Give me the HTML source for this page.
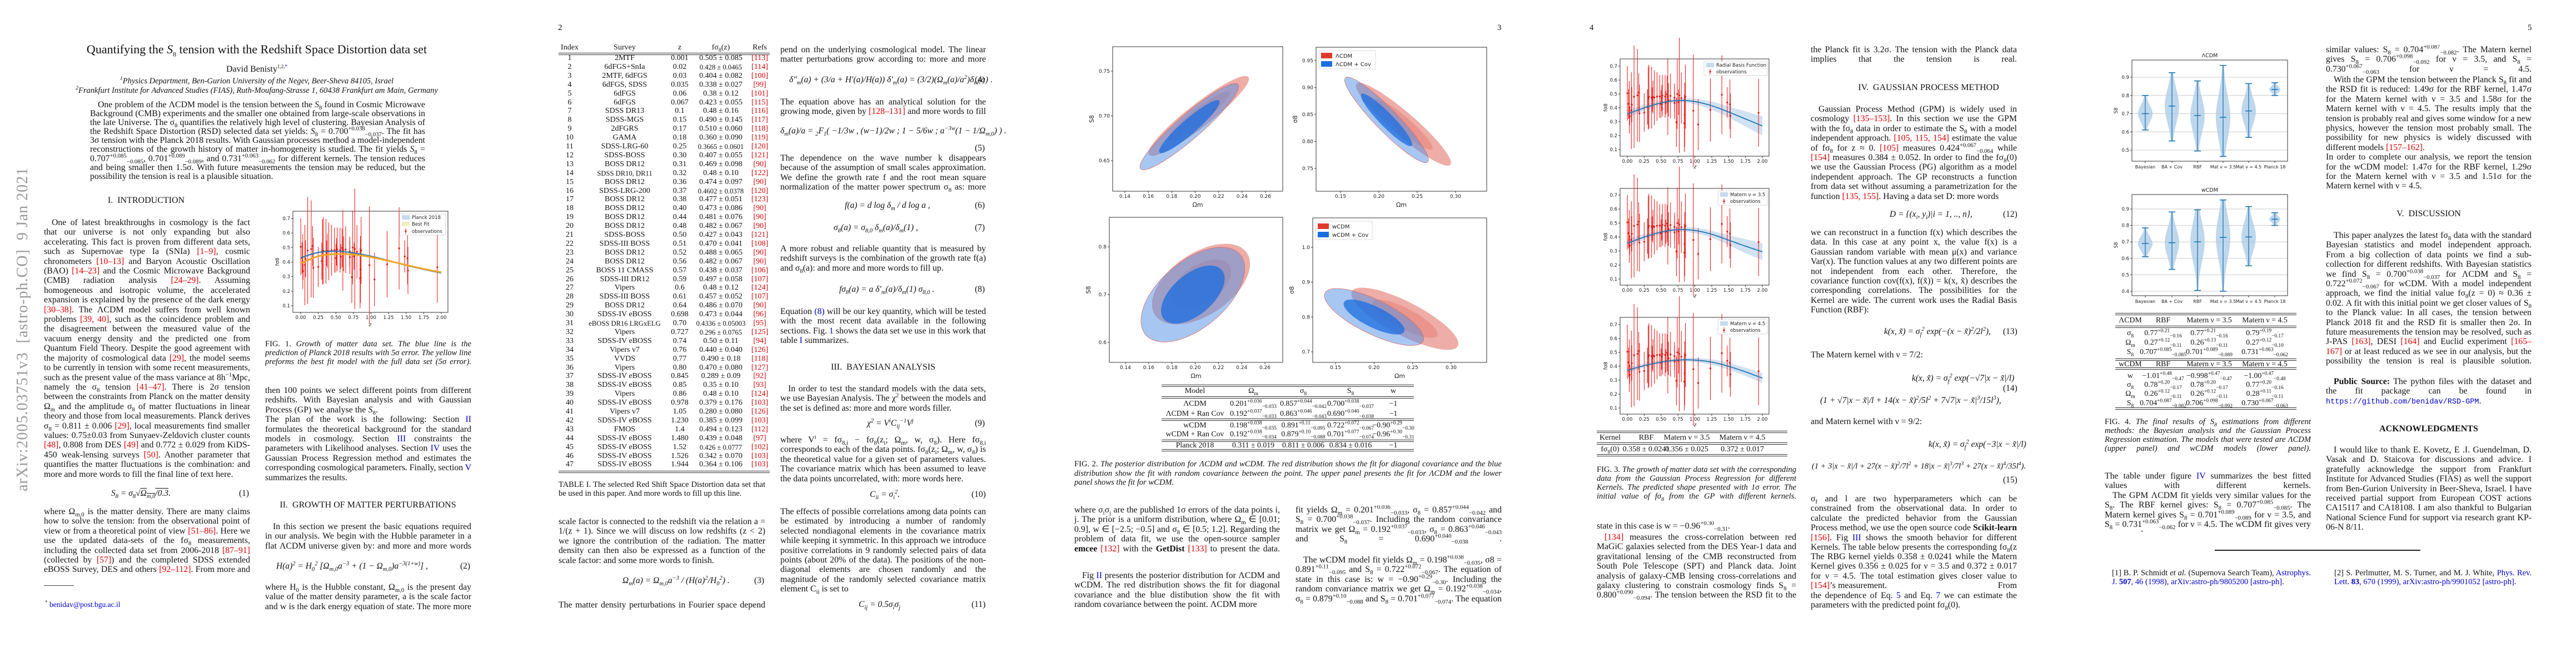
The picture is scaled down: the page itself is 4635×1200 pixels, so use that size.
<!DOCTYPE html>
<html><head><meta charset="utf-8">
<style>
html,body{margin:0;padding:0;background:#fff;}
body{width:4635px;height:1200px;position:relative;overflow:hidden;font-family:"Liberation Serif",serif;color:#111;}
sup,sub{line-height:0;font-size:68%;}
.a{position:absolute;}
.t{position:absolute;font-size:15.8px;line-height:17.4px;text-align:justify;overflow:hidden;}
.c{position:absolute;font-size:14.6px;line-height:16px;text-align:justify;overflow:hidden;font-style:italic;}
.h{position:absolute;font-size:16px;font-weight:bold;white-space:nowrap;transform:translateX(-50%);}
.eq{position:absolute;font-size:15.5px;white-space:nowrap;font-style:italic;}
.en{position:absolute;font-size:15.5px;}
.r{color:#d00;} .b{color:#00c;}
.pn{position:absolute;font-size:15px;top:42px;}
.rule{position:absolute;height:0;border-top:1px solid #333;}
.cell{position:absolute;font-size:14px;white-space:nowrap;transform:translateX(-50%);line-height:14px;}
svg text{font-family:"DejaVu Sans","Liberation Sans",sans-serif;}
</style></head><body>

<!-- arXiv stamp -->
<div class="a" style="left:26px;top:884px;transform-origin:left top;transform:rotate(-90deg);font-size:28px;color:#999;white-space:nowrap;line-height:30px;letter-spacing:1px;">arXiv:2005.03751v3 &nbsp;[astro-ph.CO] &nbsp;9 Jan 2021</div>

<!-- PAGE 1 -->
<div class="a" style="left:462px;top:76px;transform:translateX(-50%);font-size:22px;white-space:nowrap;">Quantifying the <i>S</i><sub style="font-size:12px">8</sub> tension with the Redshift Space Distortion data set</div>
<div class="a" style="left:462px;top:116px;transform:translateX(-50%);font-size:16px;white-space:nowrap;">David Benisty<sup style="font-size:9px">1,2,<span class="b">*</span></sup></div>
<div class="a" style="left:462px;top:138px;transform:translateX(-50%);font-size:14.5px;font-style:italic;white-space:nowrap;"><sup>1</sup>Physics Department, Ben-Gurion University of the Negev, Beer-Sheva 84105, Israel</div>
<div class="a" style="left:462px;top:155px;transform:translateX(-50%);font-size:14.5px;font-style:italic;white-space:nowrap;"><sup>2</sup>Frankfurt Institute for Advanced Studies (FIAS), Ruth-Moufang-Strasse 1, 60438 Frankfurt am Main, Germany</div>
<div class="t" style="left:162px;top:181px;width:603px;height:145px;line-height:16.1px;text-indent:14px;">One problem of the ΛCDM model is the tension between the <i>S</i><sub>8</sub> found in Cosmic Microwave Background (CMB) experiments and the smaller one obtained from large-scale observations in the late Universe. The σ<sub>8</sub> quantifies the relatively high level of clustering. Bayesian Analysis of the Redshift Space Distortion (RSD) selected data set yields: <i>S</i><sub>8</sub> = 0.700<sup>+0.038</sup><sub>−0.037</sub>. The fit has 3σ tension with the Planck 2018 results. With Gaussian processes method a model-independent reconstructions of the growth history of matter in-homogeneity is studied. The fit yields <i>S</i><sub>8</sub> = 0.707<sup>+0.085</sup><sub>−0.085</sub>, 0.701<sup>+0.089</sup><sub>−0.089</sub>, and 0.731<sup>+0.063</sup><sub>−0.062</sub> for different kernels. The tension reduces and being smaller then 1.5σ. With future measurements the tension may be reduced, but the possibility the tension is real is a plausible situation.</div>
<div class="h" style="left:263px;top:352px;font-weight:normal;">I. &nbsp;INTRODUCTION</div>
<div class="t" style="left:79px;top:392px;width:371px;height:470px;text-indent:14px;">One of latest breakthroughs in cosmology is the fact that our universe is not only expanding but also accelerating. This fact is proven from different data sets, such as Supernovae type Ia (SNIa) <span class="r">[1–9]</span>, cosmic chronometers <span class="r">[10–13]</span> and Baryon Acoustic Oscillation (BAO) <span class="r">[14–23]</span> and the Cosmic Microwave Background (CMB) radiation analysis <span class="r">[24–29]</span>. Assuming homogeneous and isotropic volume, the accelerated expansion is explained by the presence of the dark energy <span class="r">[30–38]</span>. The ΛCDM model suffers from well known problems <span class="r">[39, 40]</span>, such as the coincidence problem and the disagreement between the measured value of the vacuum energy density and the predicted one from Quantum Field Theory. Despite the good agreement with the majority of cosmological data <span class="r">[29]</span>, the model seems to be currently in tension with some recent measurements, such as the present value of the mass variance at 8h<sup>−1</sup>Mpc, namely the σ<sub>8</sub> tension <span class="r">[41–47]</span>. There is 2σ tension between the constraints from Planck on the matter density Ω<sub>m</sub> and the amplitude σ<sub>8</sub> of matter fluctuations in linear theory and those from local measurements. Planck derives σ<sub>8</sub> = 0.811 ± 0.006 <span class="r">[29]</span>, local measurements find smaller values: 0.75±0.03 from Sunyaev-Zeldovich cluster counts <span class="r">[48]</span>, 0.808 from DES <span class="r">[49]</span> and 0.772 ± 0.029 from KiDS-450 weak-lensing surveys <span class="r">[50]</span>. Another parameter that quantifies the matter fluctuations is the combination: and more and more words to fill the final line of text here.</div>
<div class="eq" style="left:200px;top:879px;">S<sub>8</sub> = σ<sub>8</sub>√<span style="text-decoration:overline">Ω<sub>m,0</sub>/0.3</span>.</div>
<div class="en" style="left:430px;top:879px;">(1)</div>
<div class="t" style="left:79px;top:912px;width:371px;height:122px;">where Ω<sub>m,0</sub> is the matter density. There are many claims how to solve the tension: from the observational point of view or from a theoretical point of view <span class="r">[51–86]</span>. Here we use the updated data-sets of the fσ<sub>8</sub> measurements, including the collected data set from 2006-2018 <span class="r">[87–91]</span> (collected by <span class="r">[57]</span>) and the completed SDSS extended eBOSS Survey, DES and others <span class="r">[92–112]</span>. From more and more text to be hidden away here.</div>
<div class="rule" style="left:79px;top:1053px;width:54px;border-color:#444;"></div>
<div class="a" style="left:81px;top:1080px;font-size:13.5px;"><sup>*</sup> <span class="b">benidav@post.bgu.ac.il</span></div>
<div class="c" style="left:477px;top:611px;width:371px;height:50px;"><span style="font-style:normal">FIG. 1.</span> Growth of matter data set. The blue line is the prediction of Planck 2018 results with 5σ error. The yellow line preforms the best fit model with the full data set (5σ error). Some extra words.</div>
<div class="t" style="left:477px;top:694px;width:371px;height:174px;">then 100 points we select different points from different redshifts. With Bayesian analysis and with Gaussian Process (GP) we analyse the <i>S</i><sub>8</sub>. &nbsp;&nbsp;&nbsp;&nbsp;&nbsp;&nbsp;&nbsp;&nbsp;&nbsp;&nbsp;&nbsp;&nbsp;&nbsp;&nbsp;&nbsp;&nbsp;&nbsp;&nbsp;&nbsp;&nbsp;&nbsp;&nbsp;&nbsp;&nbsp;&nbsp;&nbsp;&nbsp;&nbsp;&nbsp;&nbsp;&nbsp;&nbsp;&nbsp;&nbsp;&nbsp;&nbsp;&nbsp;&nbsp; The plan of the work is the following: Section <span class="b">II</span> formulates the theoretical background for the standard models in cosmology. Section <span class="b">III</span> constraints the parameters with Likelihood analyses. Section <span class="b">IV</span> uses the Gaussian Process Regression method and estimates the corresponding cosmological parameters. Finally, section <span class="b">V</span> summarizes the results.</div>
<div class="h" style="left:662px;top:900px;font-weight:normal;">II. &nbsp;GROWTH OF MATTER PERTURBATIONS</div>
<div class="t" style="left:477px;top:939px;width:371px;height:52px;text-indent:14px;">In this section we present the basic equations required in our analysis. We begin with the Hubble parameter in a flat ΛCDM universe given by: and more and more words to fill.</div>
<div class="eq" style="left:497px;top:1010px;">H(a)<sup>2</sup> = H<sub>0</sub><sup>2</sup> [Ω<sub>m,0</sub>a<sup>−3</sup> + (1 − Ω<sub>m,0</sub>)a<sup>−3(1+w)</sup>] ,</div>
<div class="en" style="left:828px;top:1010px;">(2)</div>
<div class="t" style="left:477px;top:1048px;width:371px;height:52px;">where H<sub>0</sub> is the Hubble constant, Ω<sub>m,0</sub> is the present day value of the matter density parameter, a is the scale factor and w is the dark energy equation of state. The more more text.</div>

<!-- PAGE 2 -->
<div class="pn" style="left:1004px;">2</div>
<div class="rule" style="left:1005px;top:95px;width:380px;"></div>
<div class="rule" style="left:1005px;top:98px;width:380px;"></div>
<div class="rule" style="left:1005px;top:847px;width:380px;"></div>
<div class="rule" style="left:1005px;top:850px;width:380px;"></div>
<div id="table1"></div>
<div class="t" style="left:1005px;top:864px;width:372px;height:34px;line-height:16px;font-size:14.5px;">TABLE I. The selected Red Shift Space Distortion data set that be used in this paper. And more words to fill up this line.</div>
<div class="t" style="left:1005px;top:930px;width:372px;height:87px;">scale factor is connected to the redshift via the relation a = 1/(z + 1). Since we will discuss on low redshifts (z &lt; 2) we ignore the contribution of the radiation. The matter density can then also be expressed as a function of the scale factor: and some more words to finish.</div>
<div class="eq" style="left:1120px;top:1036px;">Ω<sub>m</sub>(a) = Ω<sub>m,0</sub>a<sup>−3</sup> / (H(a)<sup>2</sup>/H<sub>0</sub><sup>2</sup>) .</div>
<div class="en" style="left:1357px;top:1036px;">(3)</div>
<div class="t" style="left:1005px;top:1080px;width:372px;height:18px;">The matter density perturbations in Fourier space depend more words.</div>

<div class="t" style="left:1404px;top:81px;width:370px;height:35px;">pend on the underlying cosmological model. The linear matter perturbations grow according to: more and more words filling.</div>
<div class="eq" style="left:1420px;top:135px;">δ″<sub>m</sub>(a) + (3/a + H′(a)/H(a)) δ′<sub>m</sub>(a) = (3/2)(Ω<sub>m</sub>(a)/a<sup>2</sup>)δ<sub>m</sub>(a) .</div>
<div class="en" style="left:1754px;top:135px;">(4)</div>
<div class="t" style="left:1404px;top:175px;width:370px;height:35px;">The equation above has an analytical solution for the growing mode, given by <span class="r">[128–131]</span> and more words to fill this.</div>
<div class="eq" style="left:1404px;top:227px;">δ<sub>m</sub>(a)/a = <sub>2</sub>F<sub>1</sub>( −1/3w , (w−1)/2w ; 1 − 5/6w ; a<sup>−3w</sup>(1 − 1/Ω<sub>m,0</sub>) ) .</div>
<div class="en" style="left:1754px;top:258px;">(5)</div>
<div class="t" style="left:1404px;top:276px;width:370px;height:70px;">The dependence on the wave number k disappears because of the assumption of small scales approximation. We define the growth rate f and the root mean square normalization of the matter power spectrum σ<sub>8</sub> as: more more</div>
<div class="eq" style="left:1520px;top:361px;">f(a) = d log δ<sub>m</sub> / d log a ,</div>
<div class="en" style="left:1754px;top:361px;">(6)</div>
<div class="eq" style="left:1500px;top:401px;">σ<sub>8</sub>(a) = σ<sub>8,0</sub> δ<sub>m</sub>(a)/δ<sub>m</sub>(1) ,</div>
<div class="en" style="left:1754px;top:401px;">(7)</div>
<div class="t" style="left:1404px;top:439px;width:370px;height:52px;">A more robust and reliable quantity that is measured by redshift surveys is the combination of the growth rate f(a) and σ<sub>8</sub>(a): and more and more words to fill up.</div>
<div class="eq" style="left:1510px;top:512px;">fσ<sub>8</sub>(a) = a δ′<sub>m</sub>(a)/δ<sub>m</sub>(1) σ<sub>8,0</sub> .</div>
<div class="en" style="left:1754px;top:512px;">(8)</div>
<div class="t" style="left:1404px;top:552px;width:370px;height:70px;">Equation <span class="b">(8)</span> will be our key quantity, which will be tested with the most recent data available in the following sections. Fig. <span class="b">1</span> shows the data set we use in this work that table <span class="b">I</span> summarizes. &nbsp;&nbsp;&nbsp;&nbsp;&nbsp;&nbsp;&nbsp;&nbsp;&nbsp;&nbsp;&nbsp;&nbsp;&nbsp;&nbsp;&nbsp;&nbsp;&nbsp;&nbsp;&nbsp;&nbsp;&nbsp;&nbsp;&nbsp;&nbsp;&nbsp;&nbsp;&nbsp;&nbsp;&nbsp;&nbsp;&nbsp;&nbsp;&nbsp;&nbsp;&nbsp;&nbsp;&nbsp;&nbsp;&nbsp;&nbsp;&nbsp;&nbsp;&nbsp;&nbsp;&nbsp;&nbsp;&nbsp;&nbsp;&nbsp;&nbsp;&nbsp;&nbsp;&nbsp;&nbsp;&nbsp;&nbsp;</div>
<div class="h" style="left:1589px;top:652px;font-weight:normal;">III. &nbsp;BAYESIAN ANALYSIS</div>
<div class="t" style="left:1404px;top:691px;width:370px;height:52px;text-indent:14px;">In order to test the standard models with the data sets, we use Bayesian Analysis. The χ<sup>2</sup> between the models and the set is defined as: more and more words filler.</div>
<div class="eq" style="left:1560px;top:753px;">χ<sup>2</sup> = V<sup>i</sup>C<sub>ij</sub><sup>−1</sup>V<sup>j</sup></div>
<div class="en" style="left:1754px;top:753px;">(9)</div>
<div class="t" style="left:1404px;top:783px;width:370px;height:87px;">where V<sup>i</sup> = fσ<sub>8,i</sub> − fσ<sub>8</sub>(z<sub>i</sub>; Ω<sub>m</sub>, w, σ<sub>8</sub>). Here fσ<sub>8,i</sub> corresponds to each of the data points. fσ<sub>8</sub>(z<sub>i</sub>; Ω<sub>m</sub>, w, σ<sub>8</sub>) is the theoretical value for a given set of parameters values. The covariance matrix which has been assumed to leave the data points uncorrelated, with: more words here.</div>
<div class="eq" style="left:1565px;top:881px;">C<sub>ii</sub> = σ<sub>i</sub><sup>2</sup>.</div>
<div class="en" style="left:1748px;top:881px;">(10)</div>
<div class="t" style="left:1404px;top:912px;width:370px;height:157px;">The effects of possible correlations among data points can be estimated by introducing a number of randomly selected nondiagonal elements in the covariance matrix while keeping it symmetric. In this approach we introduce positive correlations in 9 randomly selected pairs of data points (about 20% of the data). The positions of the non-diagonal elements are chosen randomly and the magnitude of the randomly selected covariance matrix element C<sub>ij</sub> is set to &nbsp;&nbsp;&nbsp;&nbsp;&nbsp;&nbsp;&nbsp;&nbsp;&nbsp;&nbsp;&nbsp;&nbsp;&nbsp;&nbsp;&nbsp;&nbsp;&nbsp;&nbsp;&nbsp;&nbsp;&nbsp;&nbsp;&nbsp;&nbsp;&nbsp;&nbsp;&nbsp;&nbsp;&nbsp;&nbsp;&nbsp;&nbsp;&nbsp;&nbsp;&nbsp;&nbsp;&nbsp;&nbsp;&nbsp;&nbsp;&nbsp;&nbsp;&nbsp;&nbsp;&nbsp;&nbsp;&nbsp;&nbsp;&nbsp;&nbsp;&nbsp;&nbsp;&nbsp;&nbsp;&nbsp;&nbsp;&nbsp;&nbsp;&nbsp;&nbsp;</div>
<div class="eq" style="left:1545px;top:1079px;">C<sub>ij</sub> = 0.5σ<sub>i</sub>σ<sub>j</sub></div>
<div class="en" style="left:1748px;top:1079px;">(11)</div>

<!-- PAGE 3 -->
<div class="pn" style="left:2694px;">3</div>
<div id="table2"></div>
<div class="c" style="left:1933px;top:827px;width:769px;height:50px;line-height:16.5px;"><span style="font-style:normal">FIG. 2.</span> The posterior distribution for ΛCDM and wCDM. The red distribution shows the fit for diagonal covariance and the blue distribution show the fit with random covariance between the point. The upper panel presents the fit for ΛCDM and the lower panel shows the fit for wCDM. &nbsp;&nbsp;&nbsp;&nbsp;&nbsp;&nbsp;&nbsp;&nbsp;&nbsp;&nbsp;&nbsp;&nbsp;&nbsp;&nbsp;&nbsp;&nbsp;&nbsp;&nbsp;&nbsp;&nbsp;&nbsp;&nbsp;&nbsp;&nbsp;&nbsp;&nbsp;&nbsp;&nbsp;&nbsp;&nbsp;&nbsp;&nbsp;&nbsp;&nbsp;&nbsp;&nbsp;&nbsp;&nbsp;&nbsp;&nbsp;&nbsp;&nbsp;&nbsp;&nbsp;&nbsp;&nbsp;&nbsp;&nbsp;&nbsp;&nbsp;&nbsp;&nbsp;&nbsp;&nbsp;&nbsp;&nbsp;&nbsp;&nbsp;&nbsp;&nbsp;&nbsp;&nbsp;&nbsp;&nbsp;&nbsp;&nbsp;&nbsp;&nbsp;&nbsp;&nbsp;&nbsp;&nbsp;&nbsp;&nbsp;&nbsp;&nbsp;&nbsp;&nbsp;&nbsp;&nbsp;&nbsp;&nbsp;&nbsp;&nbsp;&nbsp;&nbsp;&nbsp;&nbsp;&nbsp;&nbsp;&nbsp;&nbsp;&nbsp;&nbsp;&nbsp;&nbsp;&nbsp;&nbsp;</div>
<div class="t" style="left:1933px;top:909px;width:370px;height:105px;">where σ<sub>i</sub>σ<sub>j</sub> are the published 1σ errors of the data points i, j. The prior is a uniform distribution, where Ω<sub>m</sub> ∈ [0.01; 0.9], w ∈ [−2.5; −0.5] and σ<sub>8</sub> ∈ [0.5; 1.2]. Regarding the problem of data fit, we use the open-source sampler <b>emcee</b> <span class="r">[132]</span> with the <b>GetDist</b> <span class="r">[133]</span> to present the data. &nbsp;&nbsp;&nbsp;&nbsp;&nbsp;&nbsp;&nbsp;&nbsp;&nbsp;&nbsp;&nbsp;&nbsp;&nbsp;&nbsp;&nbsp;&nbsp;&nbsp;&nbsp;&nbsp;&nbsp;&nbsp;&nbsp;&nbsp;&nbsp;&nbsp;&nbsp;&nbsp;&nbsp;&nbsp;&nbsp;&nbsp;&nbsp;&nbsp;&nbsp;&nbsp;&nbsp;&nbsp;&nbsp;&nbsp;&nbsp;&nbsp;&nbsp;&nbsp;&nbsp;&nbsp;&nbsp;&nbsp;&nbsp;&nbsp;&nbsp;&nbsp;&nbsp;&nbsp;&nbsp;&nbsp;&nbsp;&nbsp;&nbsp;&nbsp;&nbsp;&nbsp;&nbsp;&nbsp;</div>
<div class="t" style="left:1933px;top:1027px;width:370px;height:70px;text-indent:14px;">Fig <span class="b">II</span> presents the posterior distribution for ΛCDM and wCDM. The red distribution shows the fit for diagonal covariance and the blue distibution show the fit with random covariance between the point. ΛCDM more</div>
<div class="t" style="left:2331px;top:909px;width:371px;height:70px;">fit yields Ω<sub>m</sub> = 0.201<sup>+0.036</sup><sub>−0.033</sub>, σ<sub>8</sub> = 0.857<sup>+0.044</sup><sub>−0.042</sub> and S<sub>8</sub> = 0.700<sup>+0.038</sup><sub>−0.037</sub>. Including the random convariance matrix we get Ω<sub>m</sub> = 0.192<sup>+0.037</sup><sub>−0.033</sub>, σ<sub>8</sub> = 0.863<sup>+0.046</sup><sub>−0.043</sub> and S<sub>8</sub> = 0.690<sup>+0.040</sup><sub>−0.038</sub> . &nbsp;&nbsp;&nbsp;&nbsp;&nbsp;&nbsp;&nbsp;&nbsp;&nbsp;&nbsp;&nbsp;&nbsp;&nbsp;&nbsp;&nbsp;&nbsp;&nbsp;&nbsp;&nbsp;&nbsp;&nbsp;&nbsp;&nbsp;&nbsp;&nbsp;&nbsp;&nbsp;&nbsp;&nbsp;&nbsp;&nbsp;&nbsp;&nbsp;&nbsp;&nbsp;&nbsp;&nbsp;&nbsp;&nbsp;&nbsp;&nbsp;&nbsp;&nbsp;&nbsp;&nbsp;&nbsp;&nbsp;&nbsp;&nbsp;&nbsp;&nbsp;&nbsp;&nbsp;&nbsp;&nbsp;&nbsp;&nbsp;&nbsp;&nbsp;&nbsp;&nbsp;</div>
<div class="t" style="left:2331px;top:999px;width:371px;height:88px;text-indent:14px;">The wCDM model fit yields Ω<sub>m</sub> = 0.198<sup>+0.038</sup><sub>−0.035</sub>, σ8 = 0.891<sup>+0.11</sup><sub>−0.095</sub> and S<sub>8</sub> = 0.722<sup>+0.072</sup><sub>−0.067</sub>. The equation of state in this case is: w = −0.90<sup>+0.29</sup><sub>−0.30</sub>. Including the random convariance matrix we get Ω<sub>m</sub> = 0.192<sup>+0.038</sup><sub>−0.034</sub>, σ<sub>8</sub> = 0.879<sup>+0.10</sup><sub>−0.088</sub> and S<sub>8</sub> = 0.701<sup>+0.077</sup><sub>−0.074</sub>. The equation of more</div>

<!-- PAGE 4 -->
<div class="pn" style="left:2860px;">4</div>
<div id="table3"></div>
<div class="c" style="left:2873px;top:837px;width:359px;height:64px;"><span style="font-style:normal">FIG. 3.</span> The growth of matter data set with the corresponding data from the Gaussian Process Regression for different Kernels. The predicted shape presented with 1σ error. The initial value of fσ<sub>8</sub> from the GP with different kernels. &nbsp;&nbsp;&nbsp;&nbsp;&nbsp;&nbsp;&nbsp;&nbsp;&nbsp;&nbsp;&nbsp;&nbsp;&nbsp;&nbsp;&nbsp;&nbsp;&nbsp;&nbsp;&nbsp;&nbsp;&nbsp;&nbsp;&nbsp;&nbsp;&nbsp;&nbsp;&nbsp;&nbsp;&nbsp;&nbsp;&nbsp;&nbsp;&nbsp;&nbsp;&nbsp;&nbsp;&nbsp;&nbsp;&nbsp;&nbsp;&nbsp;&nbsp;&nbsp;&nbsp;&nbsp;&nbsp;&nbsp;&nbsp;&nbsp;&nbsp;&nbsp;&nbsp;&nbsp;</div>
<div class="t" style="left:2873px;top:938px;width:359px;height:18px;">state in this case is w = −0.96<sup>+0.30</sup><sub>−0.31</sub>.</div>
<div class="t" style="left:2873px;top:958px;width:359px;height:123px;text-indent:14px;"><span class="r">[134]</span> measures the cross-correlation between red MaGiC galaxies selected from the DES Year-1 data and gravitational lensing of the CMB reconstructed from South Pole Telescope (SPT) and Planck data. Joint analysis of galaxy-CMB lensing cross-correlations and galaxy clustering to constrain cosmology finds S<sub>8</sub> = 0.800<sup>+0.090</sup><sub>−0.094</sub>. The tension between the RSD fit to the DES fit is 0.98σ. Planck result gives 0.834±0.016 <span class="r">[29]</span>. The difference with more</div>
<div class="t" style="left:3258px;top:81px;width:371px;height:35px;">the Planck fit is 3.2σ. The tension with the Planck data implies that the tension is real. &nbsp;&nbsp;&nbsp;&nbsp;&nbsp;&nbsp;&nbsp;&nbsp;&nbsp;&nbsp;&nbsp;&nbsp;&nbsp;&nbsp;&nbsp;&nbsp;&nbsp;&nbsp;&nbsp;&nbsp;&nbsp;&nbsp;&nbsp;&nbsp;&nbsp;&nbsp;&nbsp;&nbsp;&nbsp;&nbsp;&nbsp;&nbsp;&nbsp;&nbsp;&nbsp;&nbsp;&nbsp;&nbsp;&nbsp;&nbsp;&nbsp;&nbsp;&nbsp;&nbsp;&nbsp;&nbsp;&nbsp;&nbsp;&nbsp;&nbsp;&nbsp;&nbsp;&nbsp;&nbsp;&nbsp;&nbsp;&nbsp;&nbsp;&nbsp;&nbsp;&nbsp;&nbsp;</div>
<div class="h" style="left:3470px;top:149px;font-weight:normal;">IV. &nbsp;GAUSSIAN PROCESS METHOD</div>
<div class="t" style="left:3258px;top:188px;width:371px;height:174px;text-indent:14px;">Gaussian Process Method (GPM) is widely used in cosmology <span class="r">[135–153]</span>. In this section we use the GPM with the fσ<sub>8</sub> data in order to estimate the S<sub>8</sub> with a model independent approach. <span class="r">[105, 115, 154]</span> estimate the value of fσ<sub>8</sub> for z ≈ 0. <span class="r">[105]</span> measures 0.424<sup>+0.067</sup><sub>−0.064</sub> while <span class="r">[154]</span> measures 0.384 ± 0.052. In order to find the fσ<sub>8</sub>(0) we use the Gaussian Process (PG) algorithm as a model independent approach. The GP reconstructs a function from data set without assuming a parametrization for the function <span class="r">[135, 155]</span>. Having a data set D: more words</div>
<div class="eq" style="left:3400px;top:377px;">D = {(x<sub>i</sub>, y<sub>i</sub>)|i = 1, .., n},</div>
<div class="en" style="left:3604px;top:377px;">(12)</div>
<div class="t" style="left:3258px;top:410px;width:371px;height:157px;">we can reconstruct in a function f(x) which describes the data. In this case at any point x, the value f(x) is a Gaussian random variable with mean μ(x) and variance Var(x). The function values at any two different points are not independent from each other. Therefore, the covariance function cov(f(x), f(x̃)) = k(x, x̃) describes the corresponding correlations. The possibilities for the Kernel are wide. The current work uses the Radial Basis Function (RBF): &nbsp;&nbsp;&nbsp;&nbsp;&nbsp;&nbsp;&nbsp;&nbsp;&nbsp;&nbsp;&nbsp;&nbsp;&nbsp;&nbsp;&nbsp;&nbsp;&nbsp;&nbsp;&nbsp;&nbsp;&nbsp;&nbsp;&nbsp;&nbsp;&nbsp;&nbsp;&nbsp;&nbsp;&nbsp;&nbsp;&nbsp;&nbsp;&nbsp;&nbsp;&nbsp;&nbsp;&nbsp;&nbsp;&nbsp;&nbsp;&nbsp;&nbsp;&nbsp;&nbsp;&nbsp;&nbsp;&nbsp;&nbsp;&nbsp;&nbsp;&nbsp;&nbsp;&nbsp;&nbsp;&nbsp;&nbsp;&nbsp;&nbsp;&nbsp;&nbsp;</div>
<div class="eq" style="left:3390px;top:588px;">k(x, x̃) = σ<sub>f</sub><sup>2</sup> exp(−(x − x̃)<sup>2</sup>/2l<sup>2</sup>),</div>
<div class="en" style="left:3604px;top:588px;">(13)</div>
<div class="t" style="left:3258px;top:630px;width:371px;height:18px;">The Matern kernel with ν = 7/2:</div>
<div class="eq" style="left:3440px;top:672px;">k(x, x̃) = σ<sub>f</sub><sup>2</sup> exp(−√7|x − x̃|/l)</div>
<div class="eq" style="left:3275px;top:712px;">(1 + √7|x − x̃|/l + 14(x − x̃)<sup>2</sup>/5l<sup>2</sup> + 7√7|x − x̃|<sup>3</sup>/15l<sup>3</sup>),</div>
<div class="en" style="left:3604px;top:690px;">(14)</div>
<div class="t" style="left:3258px;top:750px;width:371px;height:18px;">and Matern kernel with ν = 9/2:</div>
<div class="eq" style="left:3470px;top:791px;">k(x, x̃) = σ<sub>f</sub><sup>2</sup> exp(−3|x − x̃|/l)</div>
<div class="eq" style="left:3260px;top:831px;font-size:14.5px;">(1 + 3|x − x̃|/l + 27(x − x̃)<sup>2</sup>/7l<sup>2</sup> + 18|x − x̃|<sup>3</sup>/7l<sup>3</sup> + 27(x − x̃)<sup>4</sup>/35l<sup>4</sup>).</div>
<div class="en" style="left:3604px;top:855px;">(15)</div>
<div class="t" style="left:3258px;top:889px;width:371px;height:105px;">σ<sub>f</sub> and l are two hyperparameters which can be constrained from the observational data. In order to calculate the predicted behavior from the Gaussian Process method, we use the open source code <b>Scikit-learn</b> <span class="r">[156]</span>. Fig <span class="b">III</span> shows the smooth behavior for different Kernels. The table below presents the corresponding fσ<sub>8</sub>(z = 0). more</div>
<div class="t" style="left:3258px;top:993px;width:371px;height:105px;">The RBG kernel yields 0.358 ± 0.0241 while the Matern Kernel gives 0.356 ± 0.025 for ν = 3.5 and 0.372 ± 0.017 for ν = 4.5. The total estimation gives closer value to <span class="r">[154]</span>’s measurement. &nbsp;&nbsp;&nbsp;&nbsp;&nbsp;&nbsp;&nbsp;&nbsp;&nbsp;&nbsp;&nbsp;&nbsp;&nbsp;&nbsp;&nbsp;&nbsp;&nbsp;&nbsp;&nbsp;&nbsp;&nbsp;&nbsp;&nbsp;&nbsp;&nbsp;&nbsp;&nbsp;&nbsp;&nbsp;&nbsp;&nbsp;&nbsp;&nbsp;&nbsp;&nbsp;&nbsp;&nbsp;&nbsp;&nbsp;&nbsp;&nbsp;&nbsp;&nbsp;&nbsp; From the dependence of Eq. <span class="b">5</span> and Eq. <span class="b">7</span> we can estimate the parameters with the predicted point fσ<sub>8</sub>(0).</div>

<!-- PAGE 5 -->
<div class="pn" style="left:4548px;">5</div>
<div id="table4"></div>
<div class="c" style="left:3787px;top:751px;width:371px;height:64px;"><span style="font-style:normal">FIG. 4.</span> The final results of S<sub>8</sub> estimations from different methods: the Bayesian analysis and the Gaussian Process Regression estimation. The models that were tested are ΛCDM (upper panel) and wCDM models (lower panel). &nbsp;&nbsp;&nbsp;&nbsp;&nbsp;&nbsp;&nbsp;&nbsp;&nbsp;&nbsp;&nbsp;&nbsp;&nbsp;&nbsp;&nbsp;&nbsp;&nbsp;&nbsp;&nbsp;&nbsp;&nbsp;&nbsp;&nbsp;&nbsp;&nbsp;&nbsp;&nbsp;&nbsp;&nbsp;&nbsp;&nbsp;&nbsp;&nbsp;&nbsp;&nbsp;&nbsp;&nbsp;&nbsp;&nbsp;&nbsp;&nbsp;&nbsp;&nbsp;&nbsp;&nbsp;&nbsp;&nbsp;&nbsp;&nbsp;&nbsp;&nbsp;&nbsp;&nbsp;&nbsp;&nbsp;&nbsp;&nbsp;&nbsp;&nbsp;&nbsp;&nbsp;</div>
<div class="t" style="left:3787px;top:848px;width:371px;height:35px;">The table under figure <span class="b">IV</span> summarizes the best fitted values with different kernels. &nbsp;&nbsp;&nbsp;&nbsp;&nbsp;&nbsp;&nbsp;&nbsp;&nbsp;&nbsp;&nbsp;&nbsp;&nbsp;&nbsp;&nbsp;&nbsp;&nbsp;&nbsp;&nbsp;&nbsp;&nbsp;&nbsp;&nbsp;&nbsp;&nbsp;&nbsp;&nbsp;&nbsp;&nbsp;&nbsp;&nbsp;&nbsp;&nbsp;&nbsp;&nbsp;&nbsp;&nbsp;&nbsp;&nbsp;&nbsp;&nbsp;&nbsp;&nbsp;&nbsp;&nbsp;&nbsp;&nbsp;&nbsp;&nbsp;&nbsp;&nbsp;&nbsp;&nbsp;&nbsp;&nbsp;&nbsp;&nbsp;&nbsp;&nbsp;&nbsp;&nbsp;&nbsp;</div>
<div class="t" style="left:3787px;top:883px;width:371px;height:74px;text-indent:14px;">The GPM ΛCDM fit yields very similar values for the S<sub>8</sub>. The RBF kernel gives: S<sub>8</sub> = 0.707<sup>+0.085</sup><sub>−0.085</sub>. The Matern kernel gives S<sub>8</sub> = 0.701<sup>+0.089</sup><sub>−0.089</sub> for ν = 3.5, and S<sub>8</sub> = 0.731<sup>+0.063</sup><sub>−0.062</sub> for ν = 4.5. The wCDM fit gives very more words</div>
<div class="t" style="left:4185px;top:81px;width:370px;height:55px;">similar values: S<sub>8</sub> = 0.704<sup>+0.087</sup><sub>−0.082</sub>. The Matern kernel gives S<sub>8</sub> = 0.706<sup>+0.098</sup><sub>−0.092</sub> for ν = 3.5, and S<sub>8</sub> = 0.730<sup>+0.067</sup><sub>−0.063</sub> for ν = 4.5. &nbsp;&nbsp;&nbsp;&nbsp;&nbsp;&nbsp;&nbsp;&nbsp;&nbsp;&nbsp;&nbsp;&nbsp;&nbsp;&nbsp;&nbsp;&nbsp;&nbsp;&nbsp;&nbsp;&nbsp;&nbsp;&nbsp;&nbsp;&nbsp;&nbsp;&nbsp;&nbsp;&nbsp;&nbsp;&nbsp;&nbsp;&nbsp;&nbsp;&nbsp;&nbsp;&nbsp;&nbsp;&nbsp;&nbsp;&nbsp;&nbsp;&nbsp;&nbsp;&nbsp;&nbsp;&nbsp;&nbsp;&nbsp;&nbsp;&nbsp;&nbsp;&nbsp;&nbsp;&nbsp;&nbsp;&nbsp;&nbsp;&nbsp;&nbsp;&nbsp;&nbsp;&nbsp;</div>
<div class="t" style="left:4185px;top:135px;width:370px;height:209px;text-indent:14px;">With the GPM the tension between the Planck S<sub>8</sub> fit and the RSD fit is reduced: 1.49σ for the RBF kernel, 1.47σ for the Matern kernel with ν = 3.5 and 1.58σ for the Matern kernel with ν = 4.5. The results imply that the tension is probably real and gives some window for a new physics, however the tension most probably small. The possibility for new physics is widely discussed with different models <span class="r">[157–162]</span>. &nbsp;&nbsp;&nbsp;&nbsp;&nbsp;&nbsp;&nbsp;&nbsp;&nbsp;&nbsp;&nbsp;&nbsp;&nbsp;&nbsp;&nbsp;&nbsp;&nbsp;&nbsp;&nbsp;&nbsp;&nbsp;&nbsp;&nbsp;&nbsp;&nbsp;&nbsp;&nbsp;&nbsp;&nbsp;&nbsp;&nbsp;&nbsp;&nbsp;&nbsp;&nbsp;&nbsp;&nbsp;&nbsp;&nbsp;&nbsp;&nbsp;&nbsp;&nbsp;&nbsp;&nbsp; In order to complete our analysis, we report the tension for the wCDM model: 1.47σ for the RBF kernel, 1.29σ for the Matern kernel with ν = 3.5 and 1.51σ for the Matern kernel with ν = 4.5.</div>
<div class="h" style="left:4370px;top:376px;font-weight:normal;">V. &nbsp;DISCUSSION</div>
<div class="t" style="left:4185px;top:415px;width:370px;height:262px;text-indent:14px;">This paper analyzes the latest fσ<sub>8</sub> data with the standard Bayesian statistics and model independent approach. From a big collection of data points we find a sub-collection for different redshifts. With Bayesian statistics we find S<sub>8</sub> = 0.700<sup>+0.038</sup><sub>−0.037</sub> for ΛCDM and S<sub>8</sub> = 0.722<sup>+0.072</sup><sub>−0.067</sub> for wCDM. With a model independent approach, we find the initial value fσ<sub>8</sub>(z = 0) ≈ 0.36 ± 0.02. A fit with this initial point we get closer values of S<sub>8</sub> to the Planck value: In all cases, the tension between Planck 2018 fit and the RSD fit is smaller then 2σ. In future measurements the tension may be resolved, such as J-PAS <span class="r">[163]</span>, DESI <span class="r">[164]</span> and Euclid experiment <span class="r">[165–167]</span> or at least reduced as we see in our analysis, but the possibility the tension is real is plausible solution. &nbsp;&nbsp;&nbsp;&nbsp;&nbsp;&nbsp;&nbsp;&nbsp;&nbsp;&nbsp;&nbsp;&nbsp;&nbsp;&nbsp;&nbsp;&nbsp;&nbsp;&nbsp;&nbsp;&nbsp;&nbsp;&nbsp;&nbsp;&nbsp;&nbsp;&nbsp;&nbsp;&nbsp;&nbsp;&nbsp;&nbsp;&nbsp;&nbsp;&nbsp;&nbsp;&nbsp;&nbsp;&nbsp;&nbsp;&nbsp;&nbsp;&nbsp;&nbsp;&nbsp;&nbsp;&nbsp;&nbsp;&nbsp;&nbsp;&nbsp;&nbsp;&nbsp;&nbsp;&nbsp;&nbsp;&nbsp;&nbsp;&nbsp;&nbsp;&nbsp;</div>
<div class="t" style="left:4185px;top:678px;width:370px;height:52px;text-indent:14px;"><b>Public Source:</b> The python files with the dataset and the fit package can be found in <span class="b" style="font-family:'Liberation Mono',monospace;font-size:13.5px;">https://github.com/benidav/RSD-GPM</span>. &nbsp;&nbsp;&nbsp;&nbsp;&nbsp;&nbsp;&nbsp;&nbsp;&nbsp;&nbsp;&nbsp;&nbsp;&nbsp;&nbsp;&nbsp;&nbsp;&nbsp;&nbsp;&nbsp;&nbsp;&nbsp;&nbsp;&nbsp;&nbsp;&nbsp;&nbsp;&nbsp;&nbsp;&nbsp;&nbsp;&nbsp;&nbsp;&nbsp;&nbsp;&nbsp;&nbsp;&nbsp;&nbsp;&nbsp;&nbsp;&nbsp;&nbsp;&nbsp;&nbsp;&nbsp;&nbsp;&nbsp;&nbsp;&nbsp;&nbsp;&nbsp;&nbsp;&nbsp;&nbsp;&nbsp;&nbsp;&nbsp;&nbsp;</div>
<div class="h" style="left:4370px;top:763px;">ACKNOWLEDGMENTS</div>
<div class="t" style="left:4185px;top:801px;width:370px;height:157px;text-indent:14px;">I would like to thank E. Kovetz, E .I. Guendelman, D. Vasak and D. Staicova for discussions and advice. I gratefully acknowledge the support from Frankfurt Institute for Advanced Studies (FIAS) as well the support from Ben-Gurion University in Beer-Sheva, Israel. I have received partial support from European COST actions CA15117 and CA18108. I am also thankful to Bulgarian National Science Fund for support via research grant KP-06-N 8/11.</div>
<div class="rule" style="left:3985px;top:989px;width:370px;border-top:2px solid #222;"></div>
<div class="t" style="left:3800px;top:1024px;width:358px;height:50px;font-size:14.5px;line-height:15.8px;padding-left:0;">[1] B. P. Schmidt <i>et al.</i> (Supernova Search Team), <span class="b">Astrophys. J. <b>507</b>, 46 (1998), arXiv:astro-ph/9805200 [astro-ph]</span>.</div>
<div class="t" style="left:4200px;top:1024px;width:355px;height:50px;font-size:14.5px;line-height:15.8px;">[2] S. Perlmutter, M. S. Turner, and M. J. White, <span class="b">Phys. Rev. Lett. <b>83</b>, 670 (1999), arXiv:astro-ph/9901052 [astro-ph]</span>.</div>

<svg id="charts" width="4635" height="1200" style="position:absolute;left:0;top:0;" xmlns="http://www.w3.org/2000/svg"></svg>

<script>
// ===== DATA: Table I / Fig 1 / Fig 3 =====
const surveyNames = ["2MTF","6dFGS+SnIa","2MTF, 6dFGS","6dFGS, SDSS","6dFGS","6dFGS","SDSS DR13","SDSS-MGS","2dFGRS","GAMA","SDSS-LRG-60","SDSS-BOSS","BOSS DR12","SDSS DR10, DR11","BOSS DR12","SDSS-LRG-200","BOSS DR12","BOSS DR12","BOSS DR12","BOSS DR12","SDSS-BOSS","SDSS-III BOSS","BOSS DR12","BOSS DR12","BOSS 11 CMASS","SDSS-III DR12","Vipers","SDSS-III BOSS","BOSS DR12","SDSS-IV eBOSS","eBOSS DR16 LRGxELG","Vipers","SDSS-IV eBOSS","Vipers v7","VVDS","Vipers","SDSS-IV eBOSS","SDSS-IV eBOSS","Vipers","SDSS-IV eBOSS","Vipers v7","SDSS-IV eBOSS","FMOS","SDSS-IV eBOSS","SDSS-IV eBOSS","SDSS-IV eBOSS","SDSS-IV eBOSS"];
const redshifts = [0.001,0.02,0.03,0.035,0.06,0.067,0.1,0.15,0.17,0.18,0.25,0.30,0.31,0.32,0.36,0.37,0.38,0.40,0.44,0.48,0.50,0.51,0.52,0.56,0.57,0.59,0.6,0.61,0.64,0.698,0.70,0.727,0.74,0.76,0.77,0.80,0.845,0.85,0.86,0.978,1.05,1.230,1.4,1.480,1.52,1.526,1.944];
const redshiftLabels = ["0.001","0.02","0.03","0.035","0.06","0.067","0.1","0.15","0.17","0.18","0.25","0.30","0.31","0.32","0.36","0.37","0.38","0.40","0.44","0.48","0.50","0.51","0.52","0.56","0.57","0.59","0.6","0.61","0.64","0.698","0.70","0.727","0.74","0.76","0.77","0.80","0.845","0.85","0.86","0.978","1.05","1.230","1.4","1.480","1.52","1.526","1.944"];
const fs8Values = [0.505,0.428,0.404,0.338,0.38,0.423,0.48,0.490,0.510,0.360,0.3665,0.407,0.469,0.48,0.474,0.4602,0.477,0.473,0.481,0.482,0.427,0.470,0.488,0.482,0.438,0.497,0.48,0.457,0.486,0.473,0.4336,0.296,0.50,0.440,0.490,0.470,0.289,0.35,0.48,0.379,0.280,0.385,0.494,0.439,0.426,0.342,0.364];
const fs8Errors = [0.085,0.0465,0.082,0.027,0.12,0.055,0.16,0.145,0.060,0.090,0.0601,0.055,0.098,0.10,0.097,0.0378,0.051,0.086,0.076,0.067,0.043,0.041,0.065,0.067,0.037,0.058,0.12,0.052,0.070,0.044,0.05003,0.0765,0.11,0.040,0.18,0.080,0.09,0.10,0.10,0.176,0.080,0.099,0.123,0.048,0.0777,0.070,0.106];
const fs8Labels = ["0.505 ± 0.085","0.428 ± 0.0465","0.404 ± 0.082","0.338 ± 0.027","0.38 ± 0.12","0.423 ± 0.055","0.48 ± 0.16","0.490 ± 0.145","0.510 ± 0.060","0.360 ± 0.090","0.3665 ± 0.0601","0.407 ± 0.055","0.469 ± 0.098","0.48 ± 0.10","0.474 ± 0.097","0.4602 ± 0.0378","0.477 ± 0.051","0.473 ± 0.086","0.481 ± 0.076","0.482 ± 0.067","0.427 ± 0.043","0.470 ± 0.041","0.488 ± 0.065","0.482 ± 0.067","0.438 ± 0.037","0.497 ± 0.058","0.48 ± 0.12","0.457 ± 0.052","0.486 ± 0.070","0.473 ± 0.044","0.4336 ± 0.05003","0.296 ± 0.0765","0.50 ± 0.11","0.440 ± 0.040","0.490 ± 0.18","0.470 ± 0.080","0.289 ± 0.09","0.35 ± 0.10","0.48 ± 0.10","0.379 ± 0.176","0.280 ± 0.080","0.385 ± 0.099","0.494 ± 0.123","0.439 ± 0.048","0.426 ± 0.0777","0.342 ± 0.070","0.364 ± 0.106"];
const refNumbers = [113,114,100,99,101,115,116,117,118,119,120,121,90,122,90,120,123,90,90,90,121,108,90,90,106,107,124,107,90,96,95,125,94,126,118,127,92,93,124,103,126,103,112,97,102,103,103];
const ERR_SCALE = 2.3; // plotted error bars are wider than table 1σ
// Fig 1 theory curves
const curveZ = [0,0.25,0.5,0.75,1,1.25,1.5,1.75,2];
const planckCurve = [0.43,0.466,0.475,0.463,0.44,0.41,0.378,0.35,0.325];
const bestFitCurve = [0.392,0.44,0.455,0.452,0.434,0.408,0.38,0.353,0.33];
// Fig 3 GP curves
const rbfMean = [0.355,0.40,0.435,0.453,0.445,0.415,0.37,0.32,0.27];
const rbfBand = [0.03,0.02,0.015,0.015,0.02,0.03,0.04,0.055,0.07];
const matern35Mean = [0.355,0.40,0.435,0.453,0.447,0.42,0.378,0.335,0.295];
const matern35Band = [0.03,0.02,0.015,0.015,0.02,0.025,0.035,0.05,0.06];
const matern45Mean = [0.37,0.405,0.43,0.445,0.445,0.43,0.40,0.36,0.315];
const matern45Band = [0.02,0.015,0.012,0.012,0.015,0.02,0.025,0.03,0.035];
const zTicks = [0,0.25,0.5,0.75,1,1.25,1.5,1.75,2];
const zTickLabels = ["0.00","0.25","0.50","0.75","1.00","1.25","1.50","1.75","2.00"];
const fsTicks = [0.1,0.2,0.3,0.4,0.5,0.6,0.7];
const fsTickLabels = ["0.1","0.2","0.3","0.4","0.5","0.6","0.7"];
// Fig 2 posteriors: [mean Ωm, mean y], [sigma Ωm, sigma y], correlation
const lcdmS8RedMean=[0.203,0.700], lcdmS8RedSigma=[0.0173,0.018], lcdmS8RedRho=0.93;
const lcdmS8BlueMean=[0.195,0.688], lcdmS8BlueSigma=[0.017,0.0195], lcdmS8BlueRho=0.93;
const lcdmSig8RedMean=[0.232,0.832], lcdmSig8RedSigma=[0.025,0.031], lcdmSig8RedRho=-0.93;
const lcdmSig8BlueMean=[0.210,0.840], lcdmSig8BlueSigma=[0.022,0.032], lcdmSig8BlueRho=-0.93;
const wcdmS8RedMean=[0.205,0.722], wcdmS8RedSigma=[0.017,0.034], wcdmS8RedRho=0.5;
const wcdmS8BlueMean=[0.198,0.700], wcdmS8BlueSigma=[0.018,0.04], wcdmS8BlueRho=0.55;
const wcdmSig8RedMean=[0.240,0.795], wcdmSig8RedSigma=[0.028,0.036], wcdmSig8RedRho=-0.8;
const wcdmSig8BlueMean=[0.200,0.800], wcdmSig8BlueSigma=[0.026,0.033], wcdmSig8BlueRho=-0.75;
// Fig 2 table
const modelNames = ["ΛCDM","ΛCDM + Ran Cov","wCDM","wCDM + Ran Cov","Planck 2018"];
const omegaLabels = ["0.201<sup>+0.036</sup><sub>−0.033</sub>","0.192<sup>+0.037</sup><sub>−0.033</sub>","0.198<sup>+0.038</sup><sub>−0.035</sub>","0.192<sup>+0.038</sup><sub>−0.034</sub>","0.311 ± 0.019"];
const sigma8Labels = ["0.857<sup>+0.044</sup><sub>−0.042</sub>","0.863<sup>+0.046</sup><sub>−0.043</sub>","0.891<sup>+0.11</sup><sub>−0.095</sub>","0.879<sup>+0.10</sup><sub>−0.088</sub>","0.811 ± 0.006"];
const s8Labels = ["0.700<sup>+0.038</sup><sub>−0.037</sub>","0.690<sup>+0.040</sup><sub>−0.038</sub>","0.722<sup>+0.072</sup><sub>−0.067</sub>","0.701<sup>+0.077</sup><sub>−0.074</sub>","0.834 ± 0.016"];
const wLabels = ["−1","−1","−0.90<sup>+0.29</sup><sub>−0.30</sub>","−0.96<sup>+0.30</sup><sub>−0.31</sub>","−1"];
// Fig 4 violins
const methodLabels = ["Bayesian","BA + Cov","RBF","Mat ν = 3.5","Mat ν = 4.5","Planck 18"];
const lcdmMedian = [0.70,0.742,0.69,0.68,0.715,0.833];
const lcdmMin = [0.61,0.55,0.495,0.465,0.57,0.80];
const lcdmMax = [0.80,0.925,0.88,0.965,0.865,0.87];
const wcdmMedian = [0.69,0.695,0.70,0.727,0.73,0.838];
const wcdmMin = [0.61,0.533,0.405,0.40,0.555,0.80];
const wcdmMax = [0.785,0.882,0.895,0.955,0.915,0.877];
const violinTicks1 = [0.5,0.6,0.7,0.8,0.9], violinTickLabels1=["0.5","0.6","0.7","0.8","0.9"];
const violinTicks2 = [0.4,0.5,0.6,0.7,0.8,0.9], violinTickLabels2=["0.4","0.5","0.6","0.7","0.8","0.9"];

const NS="http://www.w3.org/2000/svg";
const svg=document.getElementById('charts');
function el(tag,attrs,parent){const e=document.createElementNS(NS,tag);for(const k in attrs)e.setAttribute(k,attrs[k]);(parent||svg).appendChild(e);return e;}
function lin(d0,d1,r0,r1){return v=>r0+(v-d0)*(r1-r0)/(d1-d0);}
function grp(name){const g=el('g',{});return g;}
function txt(g,x,y,s,size,anchor,extra){const t=el('text',Object.assign({x:x,y:y,'font-size':size,'text-anchor':anchor||'middle',fill:'#222'},extra||{}),g);t.textContent=s;return t;}
function frame(g,x0,y0,x1,y1){const r=el('rect',{x:x0,y:y0,width:x1-x0,height:y1-y0,fill:'none',stroke:'#333','stroke-width':1},g);}
function xticks(g,vals,labels,X,yb,size){vals.forEach((v,i)=>{el('line',{x1:X(v),x2:X(v),y1:yb,y2:yb+3,stroke:'#333'},g);const t=txt(g,X(v),yb+12,labels[i],size||8.5);});}
function yticks(g,vals,labels,Y,xl,size){vals.forEach((v,i)=>{el('line',{x1:xl-3,x2:xl,y1:Y(v),y2:Y(v),stroke:'#333'},g);const t=txt(g,xl-5,Y(v)+3,labels[i],size||8.5,'end');});}
function pathFrom(pts){return 'M'+pts.map(p=>p[0].toFixed(1)+','+p[1].toFixed(1)).join('L');}
function smooth(xs,ys,X,Y){
  const pts=[];for(let i=0;i<xs.length-1;i++){const p0=i>0?i-1:i,p3=i+2<xs.length?i+2:i+1;for(let s=0;s<10;s++){const t=s/10;const f=(a,b,c,d)=>0.5*((2*b)+(-a+c)*t+(2*a-5*b+4*c-d)*t*t+(-a+3*b-3*c+d)*t*t*t);pts.push([X(f(xs[p0],xs[i],xs[i+1],xs[p3])),Y(f(ys[p0],ys[i],ys[i+1],ys[p3]))]);}}
  pts.push([X(xs[xs.length-1]),Y(ys[ys.length-1])]);return pts;}

// ===== Table I =====
(function(){
  const host=document.getElementById('table1');
  const cols=[1025,1124,1223,1297,1367];
  const heads=["Index","Survey","z","fσ<sub>8</sub>(z)","Refs"];
  heads.forEach((h,i)=>{const d=document.createElement('div');d.className='cell';d.style.left=cols[i]+'px';d.style.top='79px';d.innerHTML=h;host.appendChild(d);});
  surveyNames.forEach((s,r)=>{
    const y=105+r*15.9-7;
    const vals=[String(r+1),s,redshiftLabels[r],fs8Labels[r],'['+refNumbers[r]+']'];
    vals.forEach((v,i)=>{const d=document.createElement('div');d.className='cell';d.style.left=cols[i]+'px';d.style.top=y+'px';d.textContent=v;if(i==1&&s.length>14)d.style.fontSize='12.6px';if(i==3&&v.length>13)d.style.fontSize='12.6px';if(i==4)d.style.color='#d00';
      
      
      host.appendChild(d);});
  });
})();

// ===== Fig 2 table =====
(function(){
  const host=document.getElementById('table2');
  const xs=[2150,2255,2345,2430,2507];
  [692,695,713,716,753,756,791,794,808,811].forEach(y=>{const d=document.createElement('div');d.className='rule';d.style.left='2090px';d.style.top=y+'px';d.style.width='454px';host.appendChild(d);});
  ["Model","Ω<sub>m</sub>","σ<sub>8</sub>","S<sub>8</sub>","w"].forEach((h,i)=>{const d=document.createElement('div');d.className='cell';d.style.left=xs[i]+'px';d.style.top='697px';d.innerHTML=h;host.appendChild(d);});
  const ys=[719,737,758,774,794];
  modelNames.forEach((m,r)=>{[m,omegaLabels[r],sigma8Labels[r],s8Labels[r],wLabels[r]].forEach((v,i)=>{const d=document.createElement('div');d.className='cell';d.style.left=xs[i]+'px';d.style.top=ys[r]+'px';d.innerHTML=v;d.style.fontSize='13.8px';
    
    
    host.appendChild(d);});});
})();

// ===== Kernel table (Fig 3) =====
(function(){
  const host=document.getElementById('table3');
  [775,778,796,799,817,820].forEach(y=>{const d=document.createElement('div');d.className='rule';d.style.left='2873px';d.style.top=y+'px';d.style.width='343px';host.appendChild(d);});
  const xs=[2897,2962,3035,3135];
  const rows=[["Kernel","RBF","Matern ν = 3.5","Matern ν = 4.5"],["fσ<sub>8</sub>(0)","0.358 ± 0.0241","0.356 ± 0.025","0.372 ± 0.017"]];
  rows.forEach((row,r)=>row.forEach((v,i)=>{const d=document.createElement('div');d.className='cell';d.style.left=xs[i]+'px';d.style.top=(r?802:781)+'px';d.innerHTML=v;
    
    
    host.appendChild(d);}));
})();

// ===== Fig 4 table =====
(function(){
  const host=document.getElementById('table4');
  [563,566,586,589,645,648,661,664,733,736].forEach(y=>{const d=document.createElement('div');d.className='rule';d.style.left='3806px';d.style.top=y+'px';d.style.width='326px';host.appendChild(d);});
  const xs=[3833,3892,3975,4075];
  const rows=[[569,["ΛCDM","RBF","Matern ν = 3.5","Matern ν = 4.5"]],[592,["σ<sub>8</sub>","0.77<sup>+0.21</sup><sub>−0.16</sub>","0.77<sup>+0.21</sup><sub>−0.16</sub>","0.79<sup>+0.19</sup><sub>−0.17</sub>"]],[609,["Ω<sub>m</sub>","0.27<sup>+0.12</sup><sub>−0.11</sub>","0.26<sup>+0.13</sup><sub>−0.11</sub>","0.27<sup>+0.12</sup><sub>−0.10</sub>"]],[626,["S<sub>8</sub>","0.707<sup>+0.085</sup><sub>−0.085</sub>","0.701<sup>+0.089</sup><sub>−0.089</sub>","0.731<sup>+0.063</sup><sub>−0.062</sub>"]],[648,["wCDM","RBF","Matern ν = 3.5","Matern ν = 4.5"]],[669,["w","−1.01<sup>+0.48</sup><sub>−0.47</sub>","−0.998<sup>+0.47</sup><sub>−0.47</sub>","−1.00<sup>+0.47</sup><sub>−0.48</sub>"]],[685,["σ<sub>8</sub>","0.78<sup>+0.20</sup><sub>−0.17</sub>","0.78<sup>+0.20</sup><sub>−0.17</sub>","0.77<sup>+0.20</sup><sub>−0.16</sub>"]],[701,["Ω<sub>m</sub>","0.26<sup>+0.12</sup><sub>−0.11</sub>","0.26<sup>+0.12</sup><sub>−0.11</sub>","0.28<sup>+0.11</sup><sub>−0.11</sub>"]],[718,["S<sub>8</sub>","0.704<sup>+0.087</sup><sub>−0.082</sub>","0.706<sup>+0.098</sup><sub>−0.092</sub>","0.730<sup>+0.067</sup><sub>−0.063</sub>"]]];
  rows.forEach(([y,row])=>row.forEach((v,i)=>{const d=document.createElement('div');d.className='cell';d.style.left=xs[i]+'px';d.style.top=y+'px';d.innerHTML=v;d.style.fontSize='13.8px';
    
    
    host.appendChild(d);}));
})();

// ===== Growth-data scatter (Fig 1 / Fig 3) =====
function drawObservations(g,X,Y){
  redshifts.forEach((z,i)=>{
    const e=el('line',{x1:X(z),x2:X(z),y1:Y(fs8Values[i]-ERR_SCALE*fs8Errors[i]),y2:Y(fs8Values[i]+ERR_SCALE*fs8Errors[i]),stroke:'#e8110f','stroke-width':1},g);
    
    
    const c=el('circle',{cx:X(z),cy:Y(fs8Values[i]),r:1.6,fill:'#e8110f'},g);
    
    
  });
}
function legendBox(g,x0,y0,x1,y1,entries){
  el('rect',{x:x0,y:y0,width:x1-x0,height:y1-y0,fill:'#fff',stroke:'#ccc','stroke-width':0.8,rx:2},g);
  entries.forEach(en=>{
    if(en.kind==='patch'){el('rect',{x:x0+4,y:en.y-4,width:14,height:8,fill:en.color},g);}
    else{el('line',{x1:x0+11,x2:x0+11,y1:en.y-5,y2:en.y+5,stroke:'#e8110f'},g);el('circle',{cx:x0+11,cy:en.y,r:1.6,fill:'#e8110f'},g);}
    const t=txt(g,x0+22,en.y+3,en.label,8.5,'start');
    
    
  });
}
(function(){
  const g=grp('figure-1-growth-chart');
  const X=lin(0,2,541,794),Y=lin(0.1,0.7,550,393);
  frame(g,527,380,806,562);
  xticks(g,zTicks,zTickLabels,X,562);yticks(g,fsTicks,fsTickLabels,Y,527);
  const xl=txt(g,666,587,'z',9,'middle',{'font-style':'italic'});
  const yl=txt(g,502,471,'fσ8',9,'middle',{transform:'rotate(-90 502 471)'});
  drawObservations(g,X,Y);
  const p1=el('path',{d:pathFrom(smooth(curveZ,planckCurve,X,Y)),fill:'none',stroke:'#1f77b4','stroke-width':2.4,opacity:0.9},g);
  
  const p2=el('path',{d:pathFrom(smooth(curveZ,bestFitCurve,X,Y)),fill:'none',stroke:'#f5a623','stroke-width':3},g);
  
  const lg=grp('figure-1-legend');g.appendChild(lg);
  legendBox(lg,719,385,802,423,[{kind:'patch',y:391,color:'#c6dbef',label:'Planck 2018'},{kind:'patch',y:403,color:'#f3eec0',label:'Best Fit'},{kind:'err',y:416,label:'observations'}]);
})();
(function(){
  const X=lin(0,2,2928,3171);
  const panels=[[106,281,119,269,rbfMean,rbfBand,'Radial Basis Function',3066,'gp-rbf-panel'],[339,513,351,502,matern35Mean,matern35Band,'Matern ν = 3.5',3091,'gp-matern35-panel'],[571,745,584,734,matern45Mean,matern45Band,'Matern ν = 4.5',3091,'gp-matern45-panel']];
  panels.forEach(([t,b,y7,y1,mean,band,lab,lx,name])=>{
    const g=grp(name);
    const Y=lin(0.1,0.7,y1,y7);
    frame(g,2915,t,3183,b);
    xticks(g,zTicks,zTickLabels,X,b);yticks(g,fsTicks,fsTickLabels,Y,2915);
    const xl=txt(g,3050,b+22,'z',9,'middle',{'font-style':'italic'});
    const yl=txt(g,2892,(t+b)/2,'fσ8',9,'middle',{transform:'rotate(-90 2892 '+((t+b)/2)+')'});
    const up=curveZ.map((z,i)=>mean[i]+band[i]),lo=curveZ.map((z,i)=>mean[i]-band[i]);
    const pu=smooth(curveZ,up,X,Y),pl=smooth(curveZ,lo,X,Y).reverse();
    const bd=el('path',{d:pathFrom(pu.concat(pl))+'Z',fill:'#c6dbef',opacity:0.8},g);
    
    drawObservations(g,X,Y);
    const m=el('path',{d:pathFrom(smooth(curveZ,mean,X,Y)),fill:'none',stroke:'#1f77b4','stroke-width':1.8},g);
    
    legendBox(g,lx,t+4,3180,t+30,[{kind:'patch',y:t+11,color:'#c6dbef',label:lab},{kind:'err',y:t+23,label:'observations'}]);
  });
})();

// ===== Fig 2 contours =====
function contour(g,m,s,rho,k,X,Y,fill,op,stroke){
  const pts=[];for(let i=0;i<=90;i++){const t=i/90*2*Math.PI;const x=m[0]+k*s[0]*Math.cos(t);const y=m[1]+k*s[1]*(rho*Math.cos(t)+Math.sqrt(1-rho*rho)*Math.sin(t));pts.push([X(x),Y(y)]);}
  const p=el('path',{d:pathFrom(pts)+'Z',fill:fill,'fill-opacity':op,stroke:stroke||'none','stroke-width':0.8},g);
  
}
function posteriorPanel(name,box,X,Y,xt,xtl,yt,ytl,ylab,red,blue,legend){
  const g=grp(name);
  frame(g,box[0],box[1],box[2],box[3]);
  xticks(g,xt,xtl,X,box[3],9);yticks(g,yt,ytl,Y,box[0],9);
  const xl=txt(g,(box[0]+box[2])/2,box[3]+28,'Ωm',11);
  const yx=box[0]-34,yy=(box[1]+box[3])/2;
  const yl=txt(g,yx,yy,ylab,11,'middle',{transform:'rotate(-90 '+yx+' '+yy+')'});
  contour(g,red[0],red[1],red[2],2.48,X,Y,'#e06a5e',0.55);
  contour(g,red[0],red[1],red[2],1.52,X,Y,'#e06a5e',0.35);
  contour(g,blue[0],blue[1],blue[2],2.48,X,Y,'#4f8fe6',0.5,'#e06a5e');
  contour(g,blue[0],blue[1],blue[2],1.52,X,Y,'#1a6ee0',0.75);
  if(legend){const lg=grp('figure-2-legend');g.appendChild(lg);
    el('rect',{x:legend[0],y:legend[1],width:102,height:33,fill:'#fff',stroke:'#ddd'},lg);
    el('rect',{x:legend[0]+4,y:legend[1]+4,width:20,height:10,fill:'#e0392b'},lg);
    el('rect',{x:legend[0]+4,y:legend[1]+19,width:20,height:10,fill:'#1a6ee0'},lg);
    const a=txt(lg,legend[0]+30,legend[1]+13,legend[2],10,'start');
    const b=txt(lg,legend[0]+30,legend[1]+28,legend[3],10,'start');}
}
posteriorPanel('lcdm-s8-posterior',[2002,84,2308,344],lin(0.14,0.26,2024,2277),lin(0.65,0.75,289,128),[0.14,0.16,0.18,0.20,0.22,0.24,0.26],["0.14","0.16","0.18","0.20","0.22","0.24","0.26"],[0.65,0.70,0.75],["0.65","0.70","0.75"],'S8',[lcdmS8RedMean,lcdmS8RedSigma,lcdmS8RedRho],[lcdmS8BlueMean,lcdmS8BlueSigma,lcdmS8BlueRho],null);
posteriorPanel('lcdm-sigma8-posterior',[2368,85,2675,344],lin(0.15,0.30,2412,2619),lin(0.75,0.95,303,109),[0.15,0.20,0.25,0.30],["0.15","0.20","0.25","0.30"],[0.75,0.80,0.85,0.90,0.95],["0.75","0.80","0.85","0.90","0.95"],'σ8',[lcdmSig8RedMean,lcdmSig8RedSigma,lcdmSig8RedRho],[lcdmSig8BlueMean,lcdmSig8BlueSigma,lcdmSig8BlueRho],[2373,91,'ΛCDM','ΛCDM + Cov']);
posteriorPanel('wcdm-s8-posterior',[1996,391,2308,652],lin(0.14,0.26,2025,2276),lin(0.6,0.8,616,444),[0.14,0.16,0.18,0.20,0.22,0.24,0.26],["0.14","0.16","0.18","0.20","0.22","0.24","0.26"],[0.6,0.7,0.8],["0.6","0.7","0.8"],'S8',[wcdmS8RedMean,wcdmS8RedSigma,wcdmS8RedRho],[wcdmS8BlueMean,wcdmS8BlueSigma,wcdmS8BlueRho],null);
posteriorPanel('wcdm-sigma8-posterior',[2362,392,2675,652],lin(0.15,0.30,2403,2611),lin(0.7,1.0,633,445),[0.15,0.20,0.25,0.30],["0.15","0.20","0.25","0.30"],[0.7,0.8,0.9,1.0],["0.7","0.8","0.9","1.0"],'σ8',[wcdmSig8RedMean,wcdmSig8RedSigma,wcdmSig8RedRho],[wcdmSig8BlueMean,wcdmSig8BlueSigma,wcdmSig8BlueRho],[2367,398,'wCDM','wCDM + Cov']);

// ===== Fig 4 violins =====
function violinPanel(name,title,box,Y,ticks,tlabels,med,mn,mx){
  const g=grp(name);
  const xs=[3860,3908,3954,4000,4046,4093];
  ticks.forEach(v=>{const gl=el('line',{x1:box[0],x2:box[2],y1:Y(v),y2:Y(v),stroke:'#ccc','stroke-width':1},g);});
  frame(g,box[0],box[1],box[2],box[3]);
  yticks(g,ticks,tlabels,Y,box[0],8.5);
  const tt=txt(g,(box[0]+box[2])/2,box[1]-5,title,9.5);
  const yl=txt(g,box[0]-26,(box[1]+box[3])/2,'S8',8.5,'middle',{transform:'rotate(-90 '+(box[0]-26)+' '+((box[1]+box[3])/2)+')'});
  methodLabels.forEach((lab,i)=>{
    const x=xs[i];el('line',{x1:x,x2:x,y1:box[3],y2:box[3]+3,stroke:'#333'},g);
    const t=txt(g,x,box[3]+13,lab,8);
    const s=(mx[i]-mn[i])/4.2;const W=i===5?9:12;
    const right=[],left=[];
    for(let k=0;k<=40;k++){const v=mn[i]+(mx[i]-mn[i])*k/40;const w=W*Math.exp(-0.5*Math.pow((v-med[i])/s,2))+1;right.push([x+w,Y(v)]);left.push([x-w,Y(v)]);}
    const vp=el('path',{d:pathFrom(right.concat(left.reverse()))+'Z',fill:'#a9c9e6',opacity:0.75},g);
    
    el('line',{x1:x,x2:x,y1:Y(mn[i]),y2:Y(mx[i]),stroke:'#1f77b4','stroke-width':1.3},g);
    [mn[i],mx[i],med[i]].forEach(v=>{const l=el('line',{x1:x-6,x2:x+6,y1:Y(v),y2:Y(v),stroke:'#1f77b4','stroke-width':1.6},g);});
  });
}
violinPanel('lcdm-violin-chart','ΛCDM',[3836,108,4116,290],lin(0.5,0.9,270,139),violinTicks1,violinTickLabels1,lcdmMedian,lcdmMin,lcdmMax);
violinPanel('wcdm-violin-chart','wCDM',[3836,350,4116,532],lin(0.4,0.9,524,376),violinTicks2,violinTickLabels2,wcdmMedian,wcdmMin,wcdmMax);
</script>
</body></html>
